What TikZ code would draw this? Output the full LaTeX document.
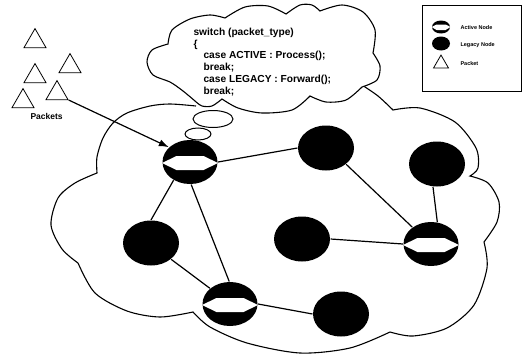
\documentclass[tikz,border=0pt]{standalone}
\usepackage{fontspec}
\setmainfont{Liberation Sans}
\usetikzlibrary{shapes.geometric,arrows.meta}
\begin{document}
\begin{tikzpicture}[x=1pt,y=-1pt,line width=1.1pt,
  legacy/.style={ellipse,fill=black,draw=none,inner sep=0pt,minimum width=56pt,minimum height=45pt},
  active/.style={legacy,minimum width=55pt,minimum height=44pt,path picture={
    \fill[white] ([xshift=-0.5pt,yshift=-1pt]path picture bounding box.west)
      -- ([xshift=14pt,yshift=6pt]path picture bounding box.west)
      -- ([xshift=-14pt,yshift=6pt]path picture bounding box.east)
      -- ([xshift=0.5pt,yshift=-1pt]path picture bounding box.east)
      -- ([xshift=-14pt,yshift=-8pt]path picture bounding box.east)
      -- ([xshift=14pt,yshift=-8pt]path picture bounding box.west) -- cycle;}},
  legacysmall/.style={ellipse,fill=black,draw=none,inner sep=0pt,minimum width=18pt,minimum height=14pt},
  activesmall/.style={legacysmall,minimum height=13pt,path picture={
    \fill[white] ([xshift=-0.5pt]path picture bounding box.west)
      -- ([xshift=4.5pt,yshift=2.5pt]path picture bounding box.west)
      -- ([xshift=-4.5pt,yshift=2.5pt]path picture bounding box.east)
      -- ([xshift=0.5pt]path picture bounding box.east)
      -- ([xshift=-4.5pt,yshift=-3pt]path picture bounding box.east)
      -- ([xshift=4.5pt,yshift=-3pt]path picture bounding box.west) -- cycle;}},
  packet/.style={regular polygon,regular polygon sides=3,draw,line width=0.8pt,inner sep=0pt,minimum size=25.4pt},
  packetsmall/.style={packet,minimum size=17.3pt},
  link/.style={line width=1.2pt},
  codeline/.style={anchor=base west,inner sep=0pt,font=\fontsize{10.2}{12}\selectfont\bfseries},
  legendtext/.style={anchor=base west,inner sep=0pt,font=\fontsize{5.5}{6}\selectfont\bfseries},
  cloudline/.style={line width=1.1pt}]
\useasboundingbox (0,0) rectangle (527,356);

% big network cloud (open outline, top part hidden by thought cloud)
\draw[cloudline] plot[smooth] coordinates {(362,85) (378,96) (393,110)}
  -- plot[smooth] coordinates {(393,110) (420,108) (455,122) (476,148) (478,168) (470,176)}
  -- plot[smooth] coordinates {(470,176) (488,183) (499,202) (497,222) (484,242)}
  -- plot[smooth] coordinates {(484,242) (487,268) (474,305) (447,328) (413,336) (390,332)}
  -- plot[smooth] coordinates {(390,332) (350,348) (300,353) (247,343) (210,327) (193,312)}
  -- plot[smooth] coordinates {(193,312) (160,317) (127,311) (95,293) (78,263)}
  -- plot[smooth] coordinates {(78,263) (62,249) (51,225) (58,198) (75,183) (97,173)}
  -- plot[smooth] coordinates {(97,173) (97,157) (103,138) (113,123) (127,113) (150,106) (170,104) (196,106)};

% network nodes
\node[active] (A1) at (190,162) {};
\node[legacy] (L1) at (326,148) {};
\node[legacy] (L2) at (437,164) {};
\node[legacy] (L3) at (151,243) {};
\node[legacy] (L4) at (302,239) {};
\node[active] (A3) at (431,244) {};
\node[active] (A2) at (230,304) {};
\node[legacy] (L5) at (341,314) {};

% links
\draw[link] (A1.east) -- (L1.west);
\draw[link] (A1.228) -- (L3.90);
\draw[link] (A1.273) -- (A2.92);
\draw[link] (L3.321) -- (A2.142);
\draw[link] (A2.east) -- (L5.west);
\draw[link] (L1.321) -- (A3.138);
\draw[link] (L2.260) -- (A3.74);
\draw[link] (L4.east) -- (A3.west);

% thought cloud
\filldraw[cloudline,fill=white] plot[smooth] coordinates {(195,101) (183,91) (170,82) (153,75) (147,62) (152,50) (168,44)}
  -- plot[smooth] coordinates {(168,44) (172,30) (190,19) (210,15) (225,18)}
  -- plot[smooth] coordinates {(225,18) (245,7) (268,6) (286,14)}
  -- plot[smooth] coordinates {(286,14) (300,5) (312,5) (320,11)}
  -- plot[smooth] coordinates {(320,11) (342,5) (363,12) (375,30) (373,53)}
  -- plot[smooth] coordinates {(373,53) (380,66) (377,80) (362,87)}
  -- plot[smooth] coordinates {(362,87) (346,100) (326,102) (310,96)}
  -- plot[smooth] coordinates {(310,96) (292,110) (262,113) (238,108) (222,99)}
  -- plot[smooth] coordinates {(222,99) (212,106) (202,106) (195,101)}
  -- cycle;
\node[ellipse,draw,fill=white,line width=1pt,inner sep=0pt,minimum width=40pt,minimum height=17pt] (B1) at (213,119) {};
\node[ellipse,draw,fill=white,line width=1pt,inner sep=0pt,minimum width=26pt,minimum height=12pt] (B2) at (198,134) {};

\node[codeline] (c1) at (193,35) {switch (packet\_type)};
\node[codeline] (c2) at (193,47) {\{};
\node[codeline] (c3) at (203,58) {case ACTIVE : Process();};
\node[codeline] (c4) at (203,70) {break;};
\node[codeline] (c5) at (203,82.5) {case LEGACY : Forward();};
\node[codeline] (c6) at (203,94) {break;};

% packets
\node[packet] (t1) at (35,41.3) {};
\node[packet] (t2) at (70,66.3) {};
\node[packet] (t3) at (35,76.3) {};
\node[packet] (t4) at (57,93.3) {};
\node[packet] (t5) at (23,101.3) {};
\node[anchor=base west,inner sep=0pt,font=\fontsize{8.5}{9}\selectfont\bfseries] (plab) at (30,119) {Packets};
\draw[line width=1.2pt,-{Latex[length=10pt,width=7pt]}] (t4.corner 3) -- (A1.145);

% legend
\draw[line width=0.8pt] (422,5) rectangle (521,91);
\node[activesmall] (la) at (441,27) {};
\node[legacysmall] (ll) at (441,43.5) {};
\node[packetsmall] (lp) at (441,63.7) {};
\node[legendtext] (lta) at (460,29) {Active Node};
\node[legendtext] (ltl) at (460,46) {Legacy Node};
\node[legendtext] (ltp) at (460,65) {Packet};
\end{tikzpicture}
\end{document}
